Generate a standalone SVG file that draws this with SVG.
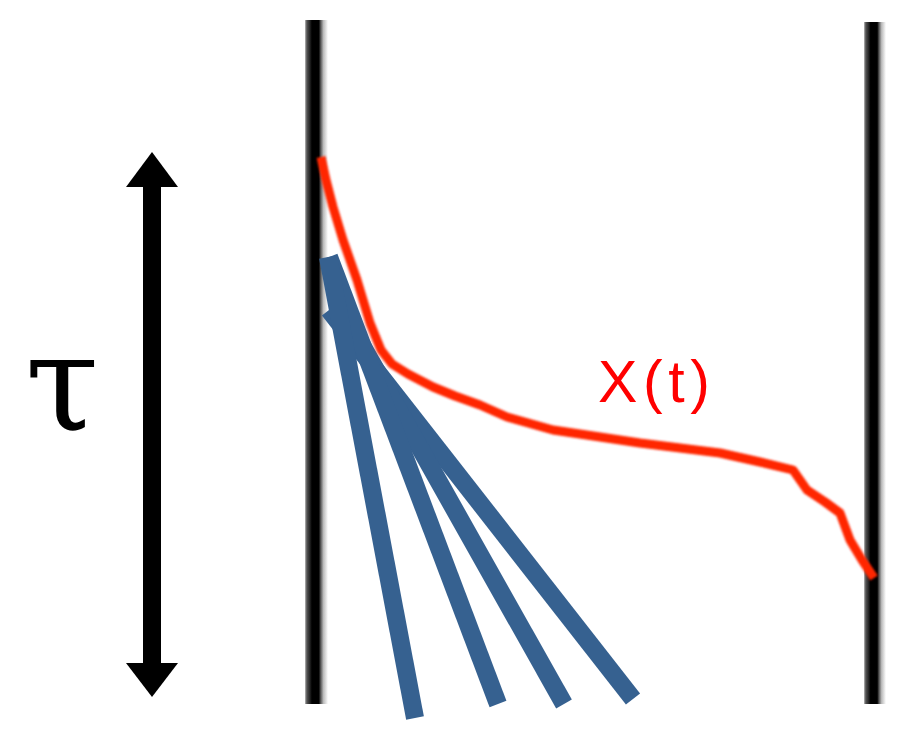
<svg xmlns="http://www.w3.org/2000/svg" width="917" height="742" viewBox="0 0 917 742">
<defs>
<linearGradient id="wall" x1="0" y1="0" x2="1" y2="0">
<stop offset="0" stop-color="#bbb"/>
<stop offset="0.08" stop-color="#555"/>
<stop offset="0.2" stop-color="#2a2a2a"/>
<stop offset="0.3" stop-color="#000"/>
<stop offset="0.6" stop-color="#000"/>
<stop offset="0.68" stop-color="#555"/>
<stop offset="0.8" stop-color="#bbb"/>
<stop offset="1" stop-color="#fff"/>
</linearGradient>
<filter id="soft" x="-5%" y="-5%" width="110%" height="110%"><feGaussianBlur stdDeviation="0.9"/></filter>
</defs>
<style>
.rod{stroke:#366190;stroke-width:18;stroke-linecap:butt;fill:none}
.wall{fill:url(#wall)}
</style>
<rect width="917" height="742" fill="#fff"/>
<g id="walls">
<rect class="wall" x="305" y="20" width="23" height="684"/>
<rect class="wall" x="864" y="22" width="22" height="682"/>
</g>
<g id="tau-arrow">
<rect x="143" y="184" width="18" height="482" fill="#000"/>
<polygon points="152,152 178,187 126,187" fill="#000"/>
<polygon points="152,697 178,663 126,663" fill="#000"/>
</g>
<g id="tau-label">
<text x="62" y="430" font-family="DejaVu Serif, serif" font-size="134" text-anchor="middle" fill="#000">τ</text>
</g>
<g id="rods">
<line class="rod" x1="329" y1="310" x2="633" y2="699"/>
<line class="rod" x1="339.4" y1="305" x2="564" y2="704"/>
<line class="rod" x1="329" y1="257" x2="498" y2="704"/>
<line class="rod" x1="328" y1="257" x2="415" y2="718"/>
</g>
<g id="trajectory">
<polyline filter="url(#soft)" fill="none" stroke="#ff2600" stroke-width="9" stroke-linejoin="round" points="321,157 326,180 333,207 343,240 357,280 370,323 381,350 392,364 408,374 433,387 455,396 480,405 507,417 553,430 600,437 640,443 680,448 720,453 760,462 793,470 807,490 825,502 840,513 850,540 862,560 874,578"/>
</g>
<g id="trajectory-label">
<text x="598" y="402" font-family="Liberation Sans, Arial, sans-serif" font-size="59" fill="#ff0000" textLength="112" lengthAdjust="spacing">X(t)</text>
</g>
</svg>
